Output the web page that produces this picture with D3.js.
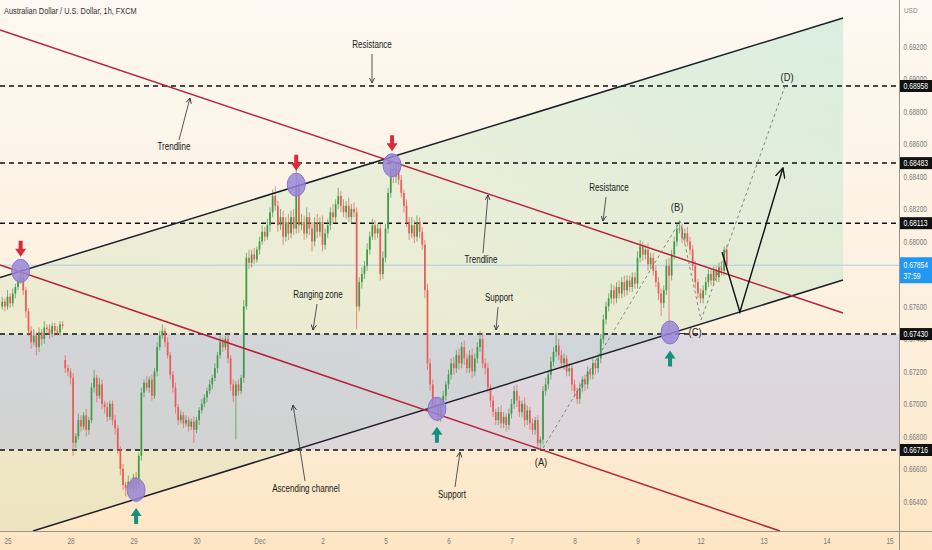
<!DOCTYPE html>
<html>
<head>
<meta charset="utf-8">
<script src="https://cdnjs.cloudflare.com/ajax/libs/d3/7.8.5/d3.min.js"></script>
<style>
  body { margin: 0; background: #fdf3e4; }
  svg { display: block; }
</style>
</head>
<body>
<div id="chart"></div>
<script>
var width = 932, height = 550
var plotW = 899, plotH = 531
var font = "'Liberation Sans', Arial, sans-serif"

// hourly closes in pips (x 1e-4), AUD/USD 1h
var closes = [
  6763,6760,6766,6762,6768,6772,6776,6778,6770,6757,
  6745,6738,6742,6735,6744,6740,6747,6746,6743,6748,
  6745,6744,6749,6748,6722,6720,6716,6676,6680,6690,
  6686,6693,6684,6690,6710,6716,6705,6712,6700,6698,
  6692,6700,6690,6685,6672,6660,6650,6648,6652,6648,
  6655,6650,6668,6707,6713,6710,6715,6705,6720,6735,
  6742,6745,6738,6730,6718,6710,6698,6690,6693,6688,
  6690,6686,6689,6684,6690,6696,6700,6704,6708,6712,
  6716,6722,6730,6738,6735,6740,6728,6712,6705,6712,
  6708,6716,6760,6790,6787,6792,6789,6795,6800,6806,
  6803,6810,6818,6828,6822,6810,6815,6803,6812,6805,
  6815,6808,6835,6810,6812,6805,6815,6808,6800,6812,
  6806,6812,6798,6805,6810,6818,6815,6823,6828,6822,
  6818,6822,6815,6820,6818,6760,6775,6780,6785,6795,
  6803,6810,6805,6808,6780,6790,6808,6830,6845,6840,
  6845,6838,6830,6822,6812,6805,6810,6803,6812,6806,
  6798,6770,6725,6712,6700,6698,6692,6700,6705,6712,
  6718,6725,6722,6730,6725,6735,6728,6722,6730,6720,
  6728,6735,6740,6725,6722,6710,6702,6695,6690,6695,
  6688,6692,6687,6694,6700,6708,6702,6695,6700,6690,
  6696,6688,6684,6690,6676,6678,6708,6712,6718,6726,
  6732,6736,6730,6725,6728,6720,6722,6712,6708,6703,
  6710,6715,6712,6720,6718,6725,6722,6728,6740,6752,
  6760,6765,6770,6765,6772,6768,6775,6770,6776,6772,
  6778,6774,6790,6797,6792,6795,6786,6790,6782,6775,
  6768,6762,6770,6785,6779,6792,6800,6808,6808,6802,
  6805,6800,6795,6785,6775,6768,6765,6770,6775,6780,
  6776,6782,6778,6784,6782,6795,6785
]
// upper and lower wick lengths in pips
var wickUp = [
  3,2,4,2,3,2,3,6,2,2, 2,3,4,2,3,2,4,2,3,2, 2,3,2,2,3,2,2,3,2,4,
  3,2,4,2,3,5,2,4,3,2, 3,2,2,3,2,2,3,2,4,2, 2,3,2,3,2,4,2,3,2,3,
  3,4,2,3,2,2,3,2,3,2, 3,2,2,3,2,2,3,2,2,3, 2,3,2,4,3,2,3,2,3,2,
  3,2,4,3,5,3,4,2,3,4, 3,4,3,4,6,3,5,4,3,5, 4,5,9,3,5,4,6,3,4,3,
  5,3,4,3,4,3,5,3,5,3, 4,3,5,3,4,3,3,4,3,4, 3,4,3,3,3,4,3,3,4,3,
  3,4,3,2,4,3,5,3,4,3, 3,3,4,3,3,4,2,3,3,2, 3,3,4,3,4,3,4,3,3,4,
  3,3,5,4,3,3,2,3,2,3, 4,3,2,3,3,3,4,3,2,4, 3,2,3,2,3,2,3,4,3,3,
  3,8,4,3,3,2,3,2,3,2, 3,2,3,3,2,3,2,3,3,3, 3,3,4,3,3,4,3,4,3,3,
  3,3,4,4,3,3,4,3,3,3, 3,3,3,4,5,3,3,4,5,3, 3,4,3,3,3,2,3,3,3,3,
  3,3,3,3,3,2,3
]
var wickDn = [
  2,3,2,3,2,3,2,2,3,4, 3,4,2,5,3,4,3,2,3,2, 3,2,2,2,3,3,4,8,3,2,
  3,2,4,3,2,3,4,2,3,4, 3,2,3,4,3,4,3,5,3,2, 3,4,2,3,3,2,3,3,2,3,
  2,2,3,2,3,3,4,3,2,3, 2,3,2,8,2,3,2,2,3,2, 3,2,3,2,3,2,3,4,4,27,
  3,2,3,2,4,3,3,2,3,2, 3,2,4,3,3,4,3,5,3,4, 3,4,3,5,3,4,3,4,6,3,
  4,3,4,3,3,3,4,3,3,4, 3,4,3,4,3,14,3,4,3,3, 3,2,4,3,4,3,3,3,3,4,
  4,3,3,4,3,4,3,4,3,4, 3,5,4,4,4,3,3,3,2,3, 3,3,4,3,4,3,4,3,3,4,
  3,3,3,3,4,3,4,3,3,3, 3,3,4,3,3,3,4,3,3,4, 3,4,3,3,4,5,3,3,3,3,
  3,3,3,3,4,3,3,4,4,3, 3,3,4,3,3,3,4,3,3,3, 3,3,3,4,3,3,3,4,3,3,
  3,3,3,3,4,3,4,3,3,3, 4,8,3,3,34,3,3,3,3,3, 3,3,3,3,4,3,3,3,3,3,
  3,3,3,3,3,3,3
]
var firstOpen = 6760
var gapOpens = { 24: 6727 }

var levels = [0.68958, 0.68483, 0.68113, 0.67430, 0.66716]
var lastPrice = 0.67854
var countdown = '37:59'
var priceTicks = [0.664, 0.666, 0.668, 0.670, 0.672, 0.674, 0.676, 0.680, 0.682, 0.684, 0.686, 0.688, 0.690, 0.692]
var dayLabels = ['25', '28', '29', '30', 'Dec', '2', '5', '6', '7', '8', '9', '12', '13', '14', '15']
var dayBars = [2, 26, 50, 74, 98, 122, 146, 170, 194, 218, 242, 266, 290, 314, 338]

// drawings, in [bar, price]
var channelTop = [[-0.86, 0.67778], [320.3, 0.69377]]
var channelBottom = [[11.7, 0.66217], [320.3, 0.67763]]
var trendTop = [[-0.86, 0.69303], [320.3, 0.67560]]
var trendBottom = [[-0.86, 0.67855], [296.3, 0.66217]]
var touches = [[7, 0.6782], [112, 0.6835], [148.5, 0.6847], [51, 0.6647], [165.6, 0.6697], [254.4, 0.6744]]
var touchSide = ['top', 'top', 'top', 'bottom', 'bottom', 'bottom']
var waves = [[206, 0.66728], [258.2, 0.68126], [266.2, 0.67517], [298.2, 0.68958]]
var waveNames = ['(A)', '(B)', '(C)', '(D)']
var projection = [[274.2, 0.67935], [281, 0.67566], [297.4, 0.68453]]

var x = d3.scaleLinear().domain([0, 342]).range([2.25, 900])
var y = d3.scaleLinear().domain([0.66217, 0.694877]).range([plotH, 0])

var candles = closes.map(function(c, i) {
  var o = gapOpens[i] !== undefined ? gapOpens[i] : (i === 0 ? firstOpen : closes[i - 1])
  return {
    i: i, o: o / 1e4, c: c / 1e4,
    h: (Math.max(o, c) + wickUp[i]) / 1e4,
    l: (Math.min(o, c) - wickDn[i]) / 1e4
  }
})

var svg = d3.select('#chart').append('svg')
  .attr('width', width)
  .attr('height', height)

// condensed text: draw at (px, py) squeezed horizontally
function narrowText(sel, px, py, k) {
  sel.attr('x', 0).attr('y', 0)
    .attr('transform', function(d, i) {
      var a = typeof px === 'function' ? px(d, i) : px
      var b = typeof py === 'function' ? py(d, i) : py
      return 'translate(' + a + ',' + b + ') scale(' + k + ',1)'
    })
  return sel
}

var defs = svg.append('defs')
var bg = defs.append('linearGradient').attr('id', 'bg').attr('x1', 0).attr('y1', 0).attr('x2', 0).attr('y2', 1)
bg.append('stop').attr('offset', '0%').attr('stop-color', '#fdf8f1')
bg.append('stop').attr('offset', '55%').attr('stop-color', '#fcf1e0')
bg.append('stop').attr('offset', '100%').attr('stop-color', '#fde6c4')

var chan = defs.append('linearGradient').attr('id', 'chan').attr('x1', 0).attr('y1', 1).attr('x2', 1).attr('y2', 0)
chan.append('stop').attr('offset', '0%').attr('stop-color', 'rgb(205,220,170)').attr('stop-opacity', 0.3)
chan.append('stop').attr('offset', '50%').attr('stop-color', 'rgb(195,225,185)').attr('stop-opacity', 0.3)
chan.append('stop').attr('offset', '100%').attr('stop-color', 'rgb(175,228,205)').attr('stop-opacity', 0.45)

defs.append('clipPath').attr('id', 'plot').append('rect')
  .attr('x', 0).attr('y', 0).attr('width', plotW).attr('height', plotH)

defs.append('marker').attr('id', 'tip')
  .attr('viewBox', '0 0 8 8').attr('refX', 7).attr('refY', 4)
  .attr('markerWidth', 6).attr('markerHeight', 6).attr('markerUnits', 'userSpaceOnUse')
  .attr('orient', 'auto')
  .append('path').attr('d', 'M0,0.5 L7,4 L0,7.5').attr('fill', 'none').attr('stroke', '#333').attr('stroke-width', 1.2)

defs.append('marker').attr('id', 'bigtip')
  .attr('viewBox', '0 0 10 10').attr('refX', 9).attr('refY', 5)
  .attr('markerWidth', 11).attr('markerHeight', 11).attr('markerUnits', 'userSpaceOnUse')
  .attr('orient', 'auto')
  .append('path').attr('d', 'M0,0.5 L9,5 L0,9.5').attr('fill', 'none').attr('stroke', '#111').attr('stroke-width', 1.3)

svg.append('rect').attr('width', width).attr('height', height).attr('fill', 'url(#bg)')

var plot = svg.append('g').attr('clip-path', 'url(#plot)')

var pt = function(d) { return [x(d[0]), y(d[1])] }

// ascending channel fill
var poly = [channelTop[0], channelTop[1], channelBottom[1], channelBottom[0], [channelTop[0][0], 0.66217]]
plot.append('polygon')
  .attr('points', poly.map(function(d) { return pt(d).join(',') }).join(' '))
  .attr('fill', 'url(#chan)')

// ranging zone
plot.append('rect')
  .attr('x', 0).attr('width', plotW)
  .attr('y', y(levels[3])).attr('height', y(levels[4]) - y(levels[3]))
  .attr('fill', 'rgb(150,165,238)').attr('fill-opacity', 0.3)

// last price line
plot.append('line')
  .attr('x1', 0).attr('x2', plotW)
  .attr('y1', y(lastPrice)).attr('y2', y(lastPrice))
  .attr('stroke', '#a8cdea').attr('stroke-width', 1)

// horizontal levels
plot.selectAll('.level').data(levels).enter().append('line')
  .attr('class', 'level')
  .attr('x1', 0).attr('x2', plotW)
  .attr('y1', function(d) { return y(d) }).attr('y2', function(d) { return y(d) })
  .attr('stroke', '#111').attr('stroke-width', 1.5).attr('stroke-dasharray', '5,4')

// candles
var cg = plot.selectAll('.candle').data(candles).enter().append('g').attr('class', 'candle')
cg.append('line')
  .attr('x1', function(d) { return x(d.i) }).attr('x2', function(d) { return x(d.i) })
  .attr('y1', function(d) { return y(d.h) }).attr('y2', function(d) { return y(d.l) })
  .attr('stroke', function(d) { return d.c >= d.o ? '#3f9a46' : '#ec5a57' })
  .attr('stroke-width', 0.7)
cg.append('rect')
  .attr('x', function(d) { return x(d.i) - 0.85 })
  .attr('width', 1.7)
  .attr('y', function(d) { return y(Math.max(d.o, d.c)) })
  .attr('height', function(d) { return Math.max(0.8, Math.abs(y(d.o) - y(d.c))) })
  .attr('fill', function(d) { return d.c >= d.o ? '#3f9a46' : '#ec5a57' })

var line = d3.line().x(function(d) { return x(d[0]) }).y(function(d) { return y(d[1]) })

// channel and trend lines
;[channelTop, channelBottom].forEach(function(l) {
  plot.append('path').attr('d', line(l)).attr('fill', 'none').attr('stroke', '#1c1f2a').attr('stroke-width', 1.5)
})
;[trendTop, trendBottom].forEach(function(l) {
  plot.append('path').attr('d', line(l)).attr('fill', 'none').attr('stroke', '#b8213a').attr('stroke-width', 1.5)
})

// wave projection
plot.append('path').attr('d', line(waves))
  .attr('fill', 'none').attr('stroke', '#777').attr('stroke-width', 0.9).attr('stroke-dasharray', '3,3')
plot.append('path').attr('d', line(projection))
  .attr('fill', 'none').attr('stroke', '#111').attr('stroke-width', 1.4).attr('marker-end', 'url(#bigtip)')

// touch circles and arrows
plot.selectAll('.touch').data(touches).enter().append('ellipse')
  .attr('cx', function(d) { return x(d[0]) }).attr('cy', function(d) { return y(d[1]) })
  .attr('rx', 9).attr('ry', 11.5)
  .attr('fill', '#9a86d8').attr('fill-opacity', 0.85)
  .attr('stroke', '#8a74cf').attr('stroke-width', 1)

var downArrow = 'M-2,-16 L2,-16 L2,-8 L5.5,-8 L0,0 L-5.5,-8 L-2,-8 Z'
var upArrow = 'M-2,16 L2,16 L2,8 L5.5,8 L0,0 L-5.5,8 L-2,8 Z'
plot.selectAll('.marker').data(touches).enter().append('path')
  .attr('d', function(d, i) { return touchSide[i] === 'top' ? downArrow : upArrow })
  .attr('transform', function(d, i) {
    var dy = touchSide[i] === 'top' ? -14 : 18
    return 'translate(' + x(d[0]) + ',' + (y(d[1]) + dy) + ')'
  })
  .attr('fill', function(d, i) { return touchSide[i] === 'top' ? '#dc2a3a' : '#13917e' })

// wave labels
var waveOffset = [[-2, 18], [-3, -10], [-6, 16], [2, -5]]
narrowText(plot.selectAll('.wave').data(waves).enter().append('text'),
    function(d, i) { return x(d[0]) + waveOffset[i][0] },
    function(d, i) { return y(d[1]) + waveOffset[i][1] }, 0.85)
  .attr('text-anchor', 'middle')
  .style('font-family', font).style('font-size', '11px').attr('fill', '#222')
  .text(function(d, i) { return waveNames[i] })
plot.append('line')
  .attr('x1', x(touches[5][0]) + 10).attr('x2', x(touches[5][0]) + 15)
  .attr('y1', y(touches[5][1]) + 1).attr('y2', y(touches[5][1]) + 1)
  .attr('stroke', '#222').attr('stroke-width', 1)

// callouts (pixel layout)
var callouts = [
  { t: 'Resistance', x: 372, y: 48, from: [372, 54], to: [372, 83] },
  { t: 'Trendline', x: 174, y: 150, from: [179, 140], to: [190, 98] },
  { t: 'Resistance', x: 609, y: 191, from: [606, 197], to: [603, 221] },
  { t: 'Trendline', x: 481, y: 263, from: [483, 253], to: [488, 195] },
  { t: 'Ranging zone', x: 318, y: 298, from: [317, 304], to: [313, 330] },
  { t: 'Support', x: 499, y: 301, from: [498, 307], to: [496, 330] },
  { t: 'Ascending channel', x: 306, y: 492, from: [305, 481], to: [293, 405] },
  { t: 'Support', x: 452, y: 498, from: [455, 487], to: [460, 452] }
]
var co = svg.selectAll('.callout').data(callouts).enter().append('g')
co.append('line')
  .attr('x1', function(d) { return d.from[0] }).attr('y1', function(d) { return d.from[1] })
  .attr('x2', function(d) { return d.to[0] }).attr('y2', function(d) { return d.to[1] })
  .attr('stroke', '#444').attr('stroke-width', 0.9).attr('marker-end', 'url(#tip)')
narrowText(co.append('text'), function(d) { return d.x }, function(d) { return d.y }, 0.8)
  .attr('text-anchor', 'middle')
  .style('font-family', font).style('font-size', '10px').attr('fill', '#1a1a1a')
  .text(function(d) { return d.t })

// axes
svg.append('line').attr('x1', plotW + 0.5).attr('x2', plotW + 0.5).attr('y1', 0).attr('y2', height)
  .attr('stroke', '#9a948a').attr('stroke-width', 1)
svg.append('line').attr('x1', 0).attr('x2', width).attr('y1', plotH + 0.5).attr('y2', plotH + 0.5)
  .attr('stroke', '#9a948a').attr('stroke-width', 1)

var yAxis = d3.axisRight(y).tickValues(priceTicks).tickSize(0).tickPadding(6)
  .tickFormat(d3.format('.5f'))
var ya = svg.append('g').attr('transform', 'translate(' + plotW + ',0)').call(yAxis)
ya.select('.domain').remove()
ya.selectAll('text').attr('transform', 'scale(0.76,1)')
  .style('font-family', font).style('font-size', '8.5px').attr('fill', '#7a7a7a')

var xAxis = d3.axisBottom(x).tickValues(dayBars).tickSize(0).tickPadding(7)
  .tickFormat(function(d, i) { return dayLabels[i] })
var xa = svg.append('g').attr('transform', 'translate(0,' + plotH + ')').call(xAxis)
xa.select('.domain').remove()
xa.selectAll('text').attr('transform', 'scale(0.76,1)')
  .style('font-family', font).style('font-size', '8.5px').attr('fill', '#7a7a7a')

narrowText(svg.append('text'), 904, 13, 0.8).text('USD')
  .style('font-family', font).style('font-size', '8px').attr('fill', '#888')

// level labels
var lab = svg.selectAll('.lvl').data(levels).enter().append('g')
  .attr('transform', function(d) { return 'translate(' + (plotW + 1) + ',' + y(d) + ')' })
lab.append('rect').attr('x', 0).attr('y', -6).attr('width', 32).attr('height', 12).attr('fill', '#111')
narrowText(lab.append('text'), 3.5, 3.2, 0.8).text(function(d) { return d3.format('.5f')(d) })
  .style('font-family', font).style('font-size', '8.5px').attr('fill', '#fff')

var cur = svg.append('g').attr('transform', 'translate(' + (plotW + 1) + ',' + y(lastPrice) + ')')
cur.append('rect').attr('x', 0).attr('y', -8).attr('width', 32).attr('height', 26).attr('fill', '#2196f3')
narrowText(cur.append('text'), 3.5, 3, 0.8).text(d3.format('.5f')(lastPrice))
  .style('font-family', font).style('font-size', '8.5px').attr('fill', '#fff')
narrowText(cur.append('text'), 3.5, 14, 0.8).text(countdown)
  .style('font-family', font).style('font-size', '8.5px').attr('fill', '#fff')

// title
narrowText(svg.append('text'), 4, 14, 0.82)
  .text('Australian Dollar / U.S. Dollar, 1h, FXCM')
  .style('font-family', font).style('font-size', '9px').attr('fill', '#333')
</script>
</body>
</html>
